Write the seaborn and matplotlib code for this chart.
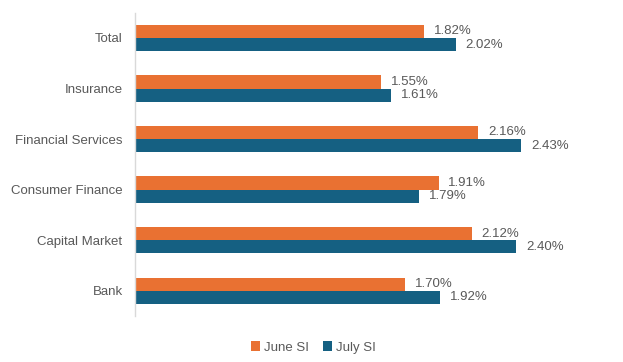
import pandas as pd
import matplotlib.pyplot as plt
import seaborn as sns

# Data
categories = ["Total", "Insurance", "Financial Services",
              "Consumer Finance", "Capital Market", "Bank"]
june_si = [1.82, 1.55, 2.16, 1.91, 2.12, 1.70]
july_si = [2.02, 1.61, 2.43, 1.79, 2.40, 1.92]
series = ["June SI", "July SI"]

COLORS = {"June SI": "#E97132", "July SI": "#156082"}
TEXT = "#595959"

df = pd.DataFrame({
    "category": categories * 2,
    "series": [series[0]] * len(categories) + [series[1]] * len(categories),
    "value": june_si + july_si,
})

sns.set_style("white")
plt.rcParams["font.family"] = ["Liberation Sans", "DejaVu Sans"]

fig = plt.figure(figsize=(6.23, 3.62), dpi=100)
ax = fig.add_axes([0.2167, 0.127, 0.75, 0.838])

sns.barplot(data=df, y="category", x="value", hue="series", order=categories,
            hue_order=series, palette=COLORS, orient="h", width=0.52,
            saturation=1, linewidth=0, ax=ax, legend=True)

for cont in ax.containers:
    ax.bar_label(cont, labels=[f"{v:.2f}%" for v in cont.datavalues],
                 padding=7, fontsize=9.5, color=TEXT)

ax.set_xlim(0, 2.94)
ax.set_ylim(len(categories) - 0.5, -0.5)
ax.set_xlabel("")
ax.set_ylabel("")
ax.set_xticks([])
ax.tick_params(axis="y", length=0, pad=9, labelsize=9.5, labelcolor=TEXT)
for s in ["top", "right", "bottom"]:
    ax.spines[s].set_visible(False)
ax.spines["left"].set_color("#D9D9D9")
ax.spines["left"].set_linewidth(1)

ax.legend(loc="center", bbox_to_anchor=(0.503, 0.04),
          bbox_transform=fig.transFigure, ncol=2,
          frameon=False, fontsize=9.5, handlelength=0.7, handleheight=0.7,
          columnspacing=1.0, handletextpad=0.3, labelcolor=TEXT)

fig.savefig("out.png", dpi=100)
